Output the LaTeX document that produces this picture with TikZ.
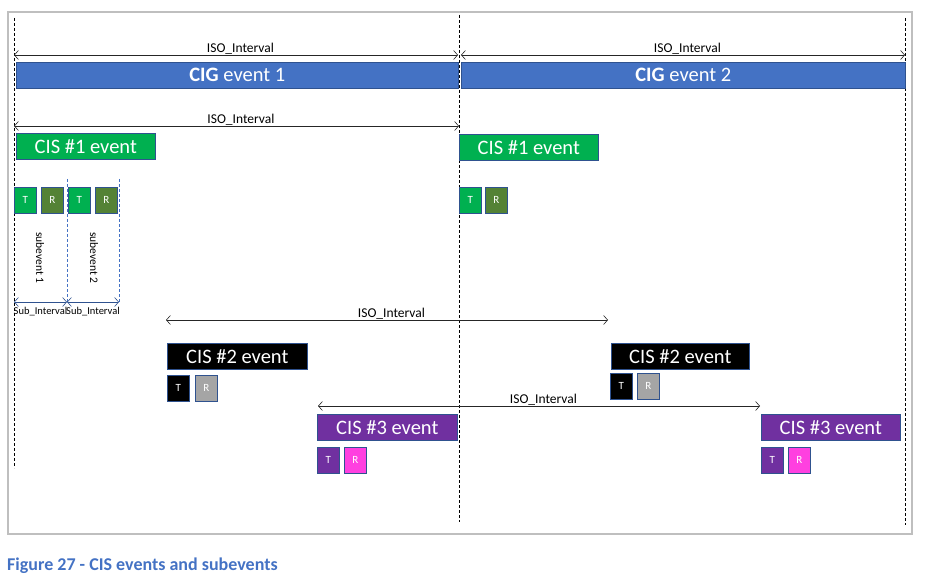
\documentclass[tikz,border=0pt]{standalone}
\usepackage{fontspec}
\setmainfont{Carlito}
\usepackage{tikz}
\usetikzlibrary{arrows.meta}
\definecolor{bleblue}{HTML}{4472C4}
\definecolor{blegreen}{HTML}{00B050}
\definecolor{bleolive}{HTML}{548235}
\definecolor{blegray}{HTML}{A5A5A5}
\definecolor{blepurple}{HTML}{7030A0}
\definecolor{blepink}{HTML}{FF40E0}
\definecolor{bleedge}{HTML}{2F528F}
\definecolor{bleframe}{HTML}{BFBFBF}
\tikzset{
  evt/.style={draw=bleedge,line width=0.6pt,anchor=north west,minimum height=26pt,
              inner sep=0pt,font=\fontsize{20.5}{20.5}\selectfont,text=white},
  slot/.style={draw=bleedge,line width=0.6pt,anchor=north west,minimum width=22pt,
              minimum height=26pt,inner sep=0pt,font=\fontsize{11}{11}\selectfont,text=white},
  isoe/.style={{Straight Barb[length=4pt,width=9pt]}-{Straight Barb[length=4pt,width=9pt]},
              line width=0.6pt,draw=black!85},
  ilab/.style={font=\fontsize{13.5}{13.5}\selectfont,above=0.8pt,inner sep=0pt,text=black},
  markline/.style={densely dashed,line width=0.7pt,draw=black},
}

\begin{document}
\begin{tikzpicture}[x=1pt,y=-1pt,
  cig/.style={evt,fill=bleblue},
  cisone/.style={evt,fill=blegreen,minimum width=139pt},
  cistwo/.style={evt,fill=black,minimum width=139pt},
  cisthree/.style={evt,fill=blepurple,minimum width=139pt},
  subline/.style={densely dashed,line width=0.5pt,draw=bleblue},
  subarr/.style={{Straight Barb[length=4pt,width=9pt]}-{Straight Barb[length=4pt,width=9pt]},
              line width=0.6pt,draw=bleedge},
  slab/.style={font=\fontsize{10.5}{10.5}\selectfont,below=4pt,inner sep=1pt,text=black}]

  \useasboundingbox (0,0) rectangle (932,580);
  \draw[bleframe,line width=1.2pt] (8,12) rectangle (912,534);

  % ---- anchor points ----
  \draw[markline] (14,18) -- (14,468);
  \draw[markline] (459,15) -- (459,522);
  \draw[markline] (905,18) -- (905,525);

  % ---- CIG events ----
  \coordinate (g0) at (14,55);
  \coordinate (g1) at (458,55);
  \coordinate (g2) at (461,55);
  \coordinate (g3) at (905,55);
  \draw[isoe] (g0) -- node[ilab,pos=0.51]{ISO\_Interval} (g1);
  \draw[isoe] (g2) -- node[ilab,pos=0.51]{ISO\_Interval} (g3);
  \node[cig,minimum width=442pt] (cig1) at (16,62) {\textbf{CIG} event 1};
  \node[cig,minimum width=444pt] (cig2) at (461,62) {\textbf{CIG} event 2};

  % ---- CIS #1 ----
  \coordinate (a0) at (14,126);
  \coordinate (a1) at (459,126);
  \draw[isoe] (a0) -- node[ilab,pos=0.51]{ISO\_Interval} (a1);
  \node[cisone] (c1a) at (16,133) {CIS \#1 event};
  \node[cisone] (c1b) at (459,134) {CIS \#1 event};
  \node[slot,fill=blegreen] (t1a) at (14,187) {T};
  \node[slot,fill=bleolive] (r1a) at (41,187) {R};
  \node[slot,fill=blegreen] (t1b) at (68,187) {T};
  \node[slot,fill=bleolive] (r1b) at (95,187) {R};
  \node[slot,fill=blegreen] (t1c) at (459,187) {T};
  \node[slot,fill=bleolive] (r1c) at (485,187) {R};

  % ---- subevents ----
  \coordinate (s0) at (14,302);
  \coordinate (s1) at (67,302);
  \coordinate (s2) at (119,302);
  \draw[subline] (67,179) -- (s1);
  \draw[subline] (119,179) -- (s2);
  \node[rotate=-90,font=\fontsize{11.5}{11.5}\selectfont] (sub1) at (40,258) {subevent 1};
  \node[rotate=-90,font=\fontsize{11.5}{11.5}\selectfont] (sub2) at (94,258) {subevent 2};
  \draw[subarr] (s0) -- node[slab]{Sub\_Interval} (s1);
  \draw[subarr] (s1) -- node[slab]{Sub\_Interval} (s2);

  % ---- CIS #2 ----
  \coordinate (b0) at (166,320);
  \coordinate (b1) at (608,320);
  \draw[isoe] (b0) -- node[ilab,pos=0.51]{ISO\_Interval} (b1);
  \node[cistwo,minimum width=140pt] (c2a) at (167,343) {CIS \#2 event};
  \node[cistwo,minimum width=138pt] (c2b) at (611,343) {CIS \#2 event};
  \node[slot,fill=black] (t2a) at (167,375) {T};
  \node[slot,fill=blegray] (r2a) at (195,375) {R};
  \node[slot,fill=black] (t2b) at (610,373) {T};
  \node[slot,fill=blegray] (r2b) at (637,373) {R};

  % ---- CIS #3 ----
  \coordinate (d0) at (318,406);
  \coordinate (d1) at (760,406);
  \draw[isoe] (d0) -- node[ilab,pos=0.51]{ISO\_Interval} (d1);
  \node[cisthree,minimum width=140pt] (c3a) at (317,414) {CIS \#3 event};
  \node[cisthree] (c3b) at (761,414) {CIS \#3 event};
  \node[slot,fill=blepurple] (t3a) at (317,447) {T};
  \node[slot,fill=blepink] (r3a) at (344,447) {R};
  \node[slot,fill=blepurple] (t3b) at (761,447) {T};
  \node[slot,fill=blepink] (r3b) at (788,447) {R};

  % ---- caption ----
  \node[anchor=west,inner sep=0pt,text=bleblue,font=\fontsize{18}{18}\selectfont\bfseries]
    (cap) at (7,566) {Figure 27 - CIS events and subevents};
\end{tikzpicture}
\end{document}
